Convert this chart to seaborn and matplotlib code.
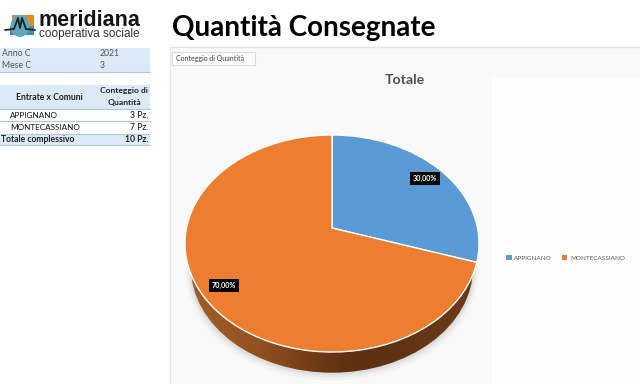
import numpy as np
import matplotlib
matplotlib.use("Agg")
import matplotlib.pyplot as plt
import matplotlib.patches as mpatches
from matplotlib.path import Path
from matplotlib.transforms import Transform
import seaborn as sns

comuni = ["APPIGNANO", "MONTECASSIANO"]
quantita = [3, 7]
filter_rows = [("Anno C", "2021"), ("Mese C", "3")]
table_head = ["Entrate x Comuni", "Conteggio di", "Quantità"]
table_total = ("Totale complessivo", "10 Pz.")
colors = sns.color_palette(["#5b9bd5", "#ed7d31"])

FONT = "Lato"
# pixel geometry of the tilted pie
CX, CY = 332, 228
A, B, K = 145.5, 106.3, 1 / 7


class PieTilt(Transform):
    # projects the flat unit pie onto the tilted disc, in pixel coords
    input_dims = 2
    output_dims = 2

    def transform_non_affine(self, values):
        values = np.asarray(values, dtype=float)
        d = 1 + K * values[:, 1]
        return np.column_stack(
            [CX + A * values[:, 0] / d, CY - B * values[:, 1] / d]
        )

    def transform_path_non_affine(self, path):
        return Path(self.transform_non_affine(path.vertices), path.codes)


def draw_background(ax):
    ax.add_patch(mpatches.Rectangle((170, 47), 470, 337, fc="#f9f9f9", ec="none"))
    ax.plot([170, 640], [47, 47], color="#e2e2e2", lw=1)
    ax.plot([170, 170], [47, 384], color="#e6e6e6", lw=1)
    ax.add_patch(mpatches.Rectangle((492, 78), 148, 306, fc="#fefefe", ec="none"))
    ax.add_patch(mpatches.Rectangle((172, 52), 83, 13, fc="#fbfbfb", ec="#dddddd", lw=0.8))
    ax.text(176, 58.5, "Conteggio di Quantità", fontsize=5, color="#444444", va="center", family=FONT)
    ax.text(405, 80, "Totale", fontsize=10.2, color="#505050", weight="bold", ha="center", va="center", family=FONT)
    ax.text(172, 28, "Quantità Consegnate", fontsize=20.1, color="black", weight="bold", va="center", family=FONT)


def draw_logo(ax):
    ax.add_patch(mpatches.Rectangle((12, 15), 22, 12, fc="#e08a2c", ec="none"))
    ax.add_patch(mpatches.Rectangle((10, 26), 24, 9, fc="#3b8fa8", ec="none"))
    ax.add_patch(mpatches.Ellipse((20, 26), 19, 22, fc="#5da7c0", ec="none"))
    ax.plot([5, 14, 18, 20, 22, 26, 35], [30, 29, 18, 28, 18, 29, 30], color="#222222", lw=1.3)
    ax.text(39, 26.5, "meridiana", fontsize=15.5, color="#151515", weight="bold", va="baseline", family="Liberation Sans")
    ax.text(39, 37.5, "cooperativa sociale", fontsize=8.5, color="#333333", va="baseline", family="Liberation Sans")


def draw_table(ax):
    for y, h in [(48, 24), (85, 24.5), (134, 11)]:
        ax.add_patch(mpatches.Rectangle((0, y), 150, h, fc="#dce9f6", ec="none"))
    for y in [72, 109, 121, 134, 145]:
        ax.plot([0, 150], [y, y], color="#a9c8e8", lw=0.8)
    for (label, value), y in zip(filter_rows, [54, 66]):
        ax.text(2, y, label, fontsize=6.2, color="#555555", va="center", family=FONT)
        ax.text(100, y, value, fontsize=6.2, color="#555555", va="center", family=FONT)
    ax.text(49, 97, table_head[0], fontsize=6.2, color="#222222", weight="bold", ha="center", va="center", family=FONT)
    ax.text(124, 91, table_head[1], fontsize=6.1, color="#222222", weight="bold", ha="center", va="center", family=FONT)
    ax.text(124, 103, table_head[2], fontsize=6.1, color="#222222", weight="bold", ha="center", va="center", family=FONT)
    for name, qty, y in zip(comuni, quantita, [115, 127]):
        ax.text(10, y, name, fontsize=5.9, color="#111111", va="center", family=FONT)
        ax.text(148, y, f"{qty} Pz.", fontsize=6.2, color="#111111", ha="right", va="center", family=FONT)
    ax.text(1, 140, table_total[0], fontsize=6.2, color="#222222", weight="bold", va="center", family=FONT)
    ax.text(148, 140, table_total[1], fontsize=6.2, color="#222222", weight="bold", ha="right", va="center", family=FONT)


def draw_wall(ax):
    # rim of the disc: a smaller ellipse below the top, filled with a side gradient
    for grow, alpha in [(5, 0.05), (3, 0.07), (1.5, 0.1)]:
        ax.add_patch(
            mpatches.Ellipse((332, 268 + grow), 282 + 2 * grow, 210 + grow, fc="#777777", ec="none", alpha=alpha, zorder=1.2)
        )
    wall = mpatches.Ellipse((332, 267.7), 282, 210, fc="none", ec="none", zorder=1.4)
    ax.add_patch(wall)
    shade = np.array(
        [[(0.62, 0.36, 0.15), (0.55, 0.30, 0.12), (0.37, 0.19, 0.07), (0.36, 0.19, 0.07), (0.42, 0.23, 0.09)]]
    )
    im = ax.imshow(shade, extent=(191, 473, 384, 135), aspect="auto", interpolation="bicubic", zorder=1.5)
    im.set_clip_path(wall)


def main():
    sns.set_theme(style="white")
    fig = plt.figure(figsize=(6.4, 3.84), dpi=100, facecolor="white")
    ax = fig.add_axes([0, 0, 1, 1])

    wedges, _, autotexts = ax.pie(
        quantita,
        colors=colors,
        startangle=90,
        counterclock=False,
        autopct=lambda p: f"{p:.2f}%".replace(".", ","),
        pctdistance=0.85,
        textprops={"fontsize": 5.2, "color": "white", "weight": "bold", "family": FONT},
    )
    tilt = PieTilt() + ax.transData
    for wedge in wedges:
        wedge.set_transform(tilt)
        wedge.set_zorder(2)
    for text in autotexts:
        text.set_transform(tilt)
        text.set_zorder(3)
        text.set_bbox({"fc": "black", "ec": "none", "boxstyle": "square,pad=0.4"})

    draw_background(ax)
    draw_wall(ax)
    draw_table(ax)
    draw_logo(ax)

    handles = [mpatches.Patch(fc=c, ec="none") for c in colors]
    ax.legend(
        handles,
        comuni,
        ncol=2,
        frameon=False,
        loc="center",
        bbox_to_anchor=(565.5, 258),
        bbox_transform=ax.transData,
        handlelength=0.9,
        handleheight=0.9,
        handletextpad=0.4,
        columnspacing=1.5,
        labelcolor="#595959",
        prop={"family": FONT, "size": 4.6},
    )

    ax.set_aspect("auto")
    ax.set_xlim(0, 640)
    ax.set_ylim(384, 0)
    ax.axis("off")
    fig.savefig("out.png", dpi=100)
    plt.close(fig)


if __name__ == "__main__":
    main()
